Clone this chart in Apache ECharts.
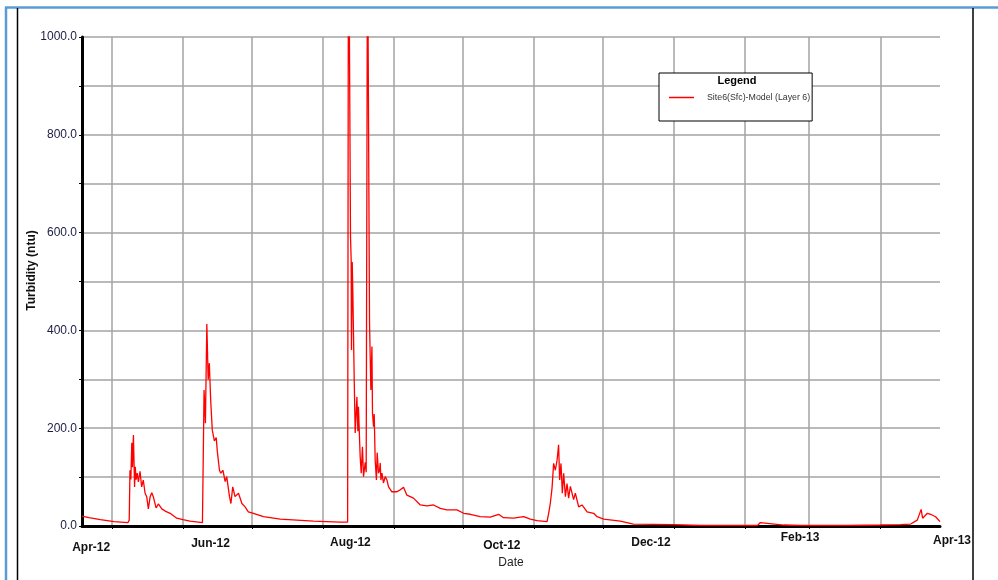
<!DOCTYPE html>
<html>
<head>
<meta charset="utf-8">
<title>Turbidity</title>
<script src="https://cdn.jsdelivr.net/npm/echarts@6/dist/echarts.min.js"></script>
<style>
  html, body { margin: 0; padding: 0; background: #fff; }
  #chart { width: 998px; height: 580px; }
</style>
</head>
<body>
<div id="chart"></div>
<script>
// axis range and tick positions
var axisStart = '2012-04-18';
var axisEnd = '2013-04-27';
var monthStarts = ['2012-05-01', '2012-06-01', '2012-07-01', '2012-08-01', '2012-09-01', '2012-10-01',
  '2012-11-01', '2012-12-01', '2013-01-01', '2013-02-01', '2013-03-01', '2013-04-01'];
var labelDates = ['2012-04-22', '2012-06-13', '2012-08-13', '2012-10-18', '2012-12-22', '2013-02-25', '2013-04-27'];
var labelTexts = ['Apr-12', 'Jun-12', 'Aug-12', 'Oct-12', 'Dec-12', 'Feb-13', 'Apr-13'];

// model output
var sampleTimes = [
  '2012-04-18 00:00', '2012-04-21 00:00', '2012-04-26 00:00', '2012-05-02 00:00', '2012-05-08 00:00',
  '2012-05-08 14:00', '2012-05-08 22:00', '2012-05-09 07:00', '2012-05-09 17:00', '2012-05-10 00:00',
  '2012-05-10 10:00', '2012-05-10 22:00', '2012-05-11 05:00', '2012-05-11 14:00', '2012-05-12 02:00',
  '2012-05-12 14:00', '2012-05-13 07:00', '2012-05-14 00:00', '2012-05-14 17:00', '2012-05-15 12:00',
  '2012-05-16 05:00', '2012-05-16 22:00', '2012-05-17 17:00', '2012-05-18 10:00', '2012-05-19 02:00',
  '2012-05-20 07:00', '2012-05-21 07:00', '2012-05-22 19:00', '2012-05-24 12:00', '2012-05-26 10:00',
  '2012-05-29 07:00', '2012-06-01 00:00', '2012-06-04 02:00', '2012-06-09 12:00', '2012-06-09 22:00',
  '2012-06-10 05:00', '2012-06-10 19:00', '2012-06-11 10:00', '2012-06-12 00:00', '2012-06-12 12:00',
  '2012-06-13 02:00', '2012-06-13 19:00', '2012-06-14 17:00', '2012-06-15 12:00', '2012-06-16 00:00',
  '2012-06-16 22:00', '2012-06-17 12:00', '2012-06-18 10:00', '2012-06-19 10:00', '2012-06-20 02:00',
  '2012-06-21 07:00', '2012-06-21 22:00', '2012-06-22 17:00', '2012-06-23 17:00', '2012-06-25 05:00',
  '2012-06-26 17:00', '2012-06-28 02:00', '2012-06-29 12:00', '2012-07-01 17:00', '2012-07-06 02:00',
  '2012-07-13 10:00', '2012-07-27 22:00', '2012-08-08 12:00', '2012-08-11 19:00', '2012-08-12 04:00',
  '2012-08-13 01:00', '2012-08-13 08:00', '2012-08-13 11:00', '2012-08-13 19:00', '2012-08-14 02:00',
  '2012-08-14 16:00', '2012-08-15 02:00', '2012-08-15 20:00', '2012-08-16 06:00', '2012-08-16 12:00',
  '2012-08-17 06:00', '2012-08-17 17:00', '2012-08-18 06:00', '2012-08-18 17:00', '2012-08-19 11:00',
  '2012-08-19 21:00', '2012-08-20 11:00', '2012-08-21 08:00', '2012-08-21 22:00', '2012-08-22 09:00',
  '2012-08-22 15:00', '2012-08-23 02:00', '2012-08-23 09:00', '2012-08-23 19:00', '2012-08-24 08:00',
  '2012-08-24 16:00', '2012-08-25 06:00', '2012-08-25 17:00', '2012-08-26 00:00', '2012-08-26 07:00',
  '2012-08-26 18:00', '2012-08-27 10:00', '2012-08-28 04:00', '2012-08-28 22:00', '2012-08-29 15:00',
  '2012-08-30 08:00', '2012-08-31 02:00', '2012-08-31 19:00', '2012-09-02 06:00', '2012-09-03 17:00',
  '2012-09-04 11:00', '2012-09-05 04:00', '2012-09-06 15:00', '2012-09-09 12:00', '2012-09-12 11:00',
  '2012-09-15 09:00', '2012-09-18 06:00', '2012-09-21 04:00', '2012-09-24 02:00', '2012-09-28 11:00',
  '2012-10-01 08:00', '2012-10-04 06:00', '2012-10-08 15:00', '2012-10-12 23:00', '2012-10-16 14:00',
  '2012-10-18 18:00', '2012-10-23 03:00', '2012-10-27 12:00', '2012-10-30 10:00', '2012-11-02 08:00',
  '2012-11-06 17:00', '2012-11-07 10:00', '2012-11-08 03:00', '2012-11-08 21:00', '2012-11-09 14:00',
  '2012-11-10 08:00', '2012-11-11 02:00', '2012-11-11 18:00', '2012-11-12 05:00', '2012-11-12 19:00',
  '2012-11-13 09:00', '2012-11-13 23:00', '2012-11-14 17:00', '2012-11-15 10:00', '2012-11-16 03:00',
  '2012-11-16 21:00', '2012-11-18 07:00', '2012-11-19 01:00', '2012-11-20 12:00', '2012-11-21 23:00',
  '2012-11-24 04:00', '2012-11-27 01:00', '2012-11-28 12:00', '2012-12-01 10:00', '2012-12-08 16:00',
  '2012-12-14 08:00', '2012-12-31 19:00', '2013-01-12 14:00', '2013-01-30 00:00', '2013-02-06 10:00',
  '2013-02-07 17:00', '2013-02-17 19:00', '2013-02-25 05:00', '2013-03-19 00:00', '2013-04-01 00:00',
  '2013-04-09 19:00', '2013-04-14 05:00', '2013-04-17 02:00', '2013-04-18 19:00', '2013-04-19 10:00',
  '2013-04-21 12:00', '2013-04-22 22:00', '2013-04-25 02:00', '2013-04-27 00:00'
];
var turbidity = [
  20, 17, 13, 9, 7,
  12, 114, 95, 170, 120,
  186, 80, 121, 95, 108,
  90, 112, 80, 94, 67,
  60, 35, 60, 68, 60,
  37, 45, 35, 30, 26,
  16, 13, 10, 7, 8,
  278, 210, 413, 299, 333,
  258, 196, 174, 181, 152,
  114, 108, 114, 91, 101,
  60, 46, 80, 60, 67,
  46, 39, 29, 26, 19,
  14, 10, 8, 8, 1350,
  592, 544, 360, 540, 470,
  298, 190, 264, 194, 244,
  142, 108, 162, 101, 130,
  110, 1250, 415, 278, 367,
  231, 203, 229, 135, 94,
  150, 108, 114, 129, 94,
  108, 88, 101, 94, 80,
  77, 70, 67, 70, 74,
  70, 79, 63, 57, 43,
  41, 43, 36, 33, 33,
  26, 24, 19, 18, 24,
  17, 16, 19, 14, 11,
  9, 26, 46, 77, 128,
  114, 135, 166, 94, 128,
  67, 108, 60, 87, 57,
  81, 54, 67, 39, 43,
  29, 26, 19, 14, 10,
  4, 3, 1, 1, 1,
  7, 2, 1, 1, 2,
  3, 4, 12, 34, 16,
  26, 24, 19, 9
];

// label layout: extra top padding (stagger) and horizontal shift
var labelStyles = {
  l0: { padding: [10, 0, 0, 0] },
  l1: { padding: [6, 0, 0, 0] },
  l2: { padding: [5, 0, 0, 0] },
  l3: { padding: [8, 0, 0, 0] },
  l4: { padding: [5, 0, 0, 0] },
  l5: { padding: [0, 0, 0, 0] },
  l6: { padding: [3, 0, 0, 24] }
};
Object.keys(labelStyles).forEach(function (k) {
  labelStyles[k].fontSize = 12;
  labelStyles[k].fontWeight = 'bold';
  labelStyles[k].color = '#111';
  labelStyles[k].fontFamily = 'Liberation Sans, Arial, sans-serif';
});

// dates -> timestamps, the x axis is a plain value axis in ms
function ts(d) { return echarts.time.parse(d).getTime(); }
var monthTicks = monthStarts.map(ts);
var labelTimes = labelDates.map(ts);
var points = sampleTimes.map(function (t, i) { return [ts(t), turbidity[i]]; });

var chart = echarts.init(document.getElementById('chart'));
chart.setOption({
  animation: false,
  backgroundColor: '#fff',
  textStyle: { fontFamily: 'Liberation Sans, Arial, sans-serif' },
  title: {
    text: 'Legend',
    left: 737,
    top: 75,
    textAlign: 'center',
    padding: 0,
    textStyle: { fontSize: 11, fontWeight: 'bold', color: '#000' }
  },
  legend: {
    left: 659,
    top: 73,
    orient: 'vertical',
    padding: [20, 2, 19, 10],
    icon: 'rect',
    itemWidth: 25,
    itemHeight: 1.5,
    backgroundColor: '#fff',
    borderColor: '#000',
    borderWidth: 1,
    itemStyle: { color: '#ff0000' },
    textStyle: { fontSize: 8.8, color: '#333', padding: [0, 0, 0, 8] },
    data: ['Site6(Sfc)-Model (Layer 6)']
  },
  grid: { left: 82, top: 37, right: 58, bottom: 54 },
  xAxis: {
    type: 'value',
    min: ts(axisStart),
    max: ts(axisEnd),
    scale: true,
    name: 'Date',
    nameLocation: 'middle',
    nameGap: 31,
    nameMoveOverlap: false,
    nameTextStyle: { fontSize: 12, color: '#222' },
    axisLine: { lineStyle: { color: '#000', width: 3 } },
    axisTick: { show: true, length: 3, customValues: monthTicks, lineStyle: { color: '#000', width: 1 } },
    splitLine: { show: true, customValues: monthTicks, lineStyle: { color: '#a3a3a3', width: 1.5 } },
    axisLabel: {
      customValues: labelTimes,
      margin: 6,
      formatter: function (val) {
        var i = labelTimes.indexOf(val);
        if (i < 0) return '';
        return '{l' + i + '|' + labelTexts[i] + '}';
      },
      rich: labelStyles
    }
  },
  yAxis: {
    type: 'value',
    min: 0,
    max: 1000,
    interval: 100,
    name: 'Turbidity (ntu)',
    nameLocation: 'middle',
    nameGap: 44,
    nameMoveOverlap: false,
    nameTextStyle: { fontSize: 12, fontWeight: 'bold', color: '#111', padding: [0, 0, 0, 22] },
    axisLine: { show: true, lineStyle: { color: '#000', width: 3 } },
    axisTick: { show: true, length: 3, lineStyle: { color: '#000', width: 1 } },
    splitLine: { show: true, lineStyle: { color: '#a3a3a3', width: 1.5 } },
    axisLabel: {
      margin: 5,
      fontSize: 12,
      color: '#1c1c44',
      formatter: function (v) { return v % 200 === 0 ? v.toFixed(1) : ''; }
    }
  },
  series: [{
    name: 'Site6(Sfc)-Model (Layer 6)',
    type: 'line',
    symbol: 'none',
    clip: true,
    lineStyle: { color: '#ff0000', width: 1.3 },
    itemStyle: { color: '#ff0000' },
    data: points
  }],
  // page frame
  graphic: [
    { type: 'line', shape: { x1: 5, y1: 7.5, x2: 998, y2: 7.5 }, style: { stroke: '#5b9bd5', lineWidth: 2.5 } },
    { type: 'line', shape: { x1: 6, y1: 7, x2: 6, y2: 580 }, style: { stroke: '#5b9bd5', lineWidth: 2.5 } },
    { type: 'line', shape: { x1: 17.5, y1: 8, x2: 17.5, y2: 580 }, style: { stroke: '#000', lineWidth: 1.5 } },
    { type: 'line', shape: { x1: 973, y1: 8, x2: 973, y2: 580 }, style: { stroke: '#000', lineWidth: 1.5 } }
  ]
});
</script>
</body>
</html>
